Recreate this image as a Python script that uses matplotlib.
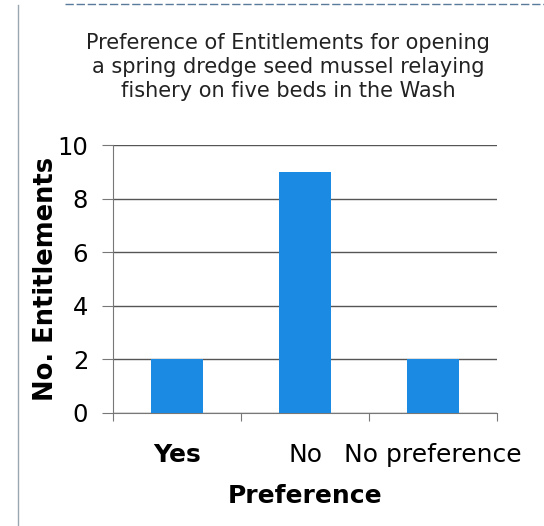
import matplotlib.pyplot as plt
import numpy as np

# data
categories = ["Yes", "No", "No preference"]
counts = [2, 9, 2]
y_ticks = [0, 2, 4, 6, 8, 10]

bar_color = "#1a8ae2"

fig = plt.figure(figsize=(5.44, 5.26), dpi=100)
ax = fig.add_axes([0.208, 0.215, 0.706, 0.509])

x = np.arange(len(categories)) + 0.5
ax.bar(x, counts, width=0.41, color=bar_color, zorder=3)

ax.set_xlim(0, 3)
ax.set_ylim(0, 10)
ax.set_yticks(y_ticks)
ax.set_yticklabels([str(v) for v in y_ticks], fontsize=17.5)
ax.yaxis.grid(True, color="#555555", linewidth=1.0, zorder=0)

# category ticks between bars, labels under bar centres
ax.set_xticks([0, 1, 2, 3])
ax.set_xticklabels([])
ax.set_xticks(x, minor=True)
ax.set_xticklabels(categories, minor=True, fontsize=18)
ax.tick_params(axis="x", which="minor", length=0, pad=22)
ax.tick_params(axis="x", which="major", length=6, color="#777777")
ax.tick_params(axis="y", length=8, color="#777777", pad=10)
ax.get_xticklabels(minor=True)[0].set_fontweight("bold")

for side in ["top", "right"]:
    ax.spines[side].set_visible(False)
for side in ["left", "bottom"]:
    ax.spines[side].set_color("#777777")

ax.set_ylabel("No. Entitlements", fontsize=18.5, fontweight="bold", labelpad=-1)
ax.set_xlabel("Preference", fontsize=18, fontweight="bold", labelpad=12)

fig.text(0.53, 0.873,
         "Preference of Entitlements for opening\n"
         "a spring dredge seed mussel relaying\n"
         "fishery on five beds in the Wash",
         ha="center", va="center", fontsize=15, color="#222222",
         linespacing=1.25)

# scan edge lines
fig.add_artist(plt.Line2D([0.033, 0.033], [0.0, 0.99], color="#9aa6b0", linewidth=1))
fig.add_artist(plt.Line2D([0.12, 1.0], [0.992, 0.992], color="#5a7a99", linewidth=1,
                          linestyle=(0, (6, 2))))

fig.savefig("out.png", dpi=100)
